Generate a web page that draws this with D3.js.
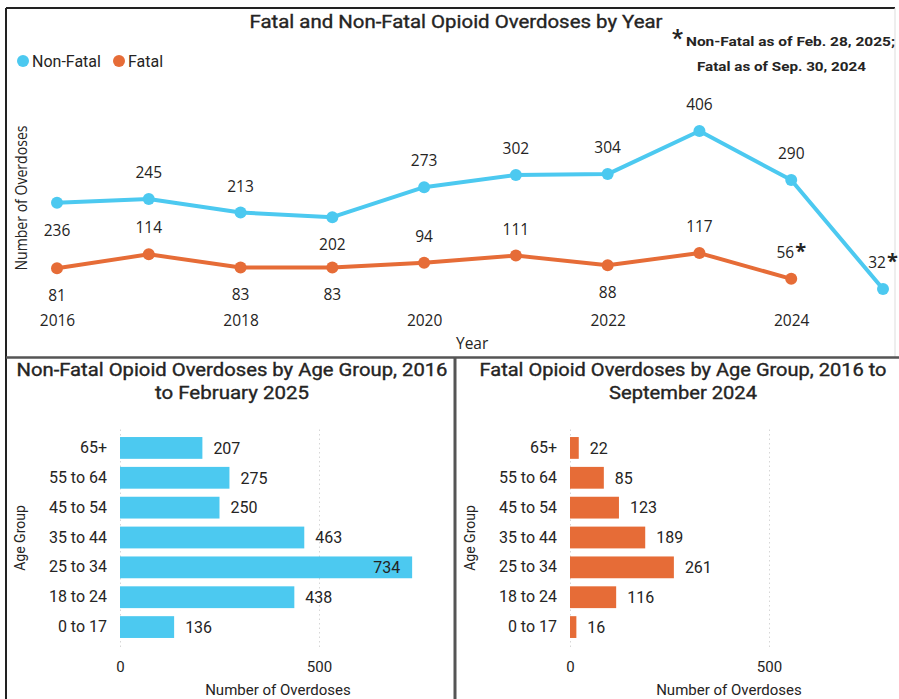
<!DOCTYPE html>
<html>
<head>
<meta charset="utf-8">
<script src="https://cdn.jsdelivr.net/npm/d3@7"></script>
<style>
  body { margin: 0; background: #fff; }
  svg { display: block; }
  .title { font-family: Roboto, sans-serif; font-weight: 400; font-size: 18px; fill: #252423; stroke: #252423; stroke-width: 0.35px; }
  .lbl { font-family: "Open Sans", sans-serif; font-size: 15.5px; fill: #252423; }
  .din { font-family: Roboto, sans-serif; fill: #252423; }
  .grid line { stroke: #d6d6d6; stroke-dasharray: 1.5 3; }
</style>
</head>
<body>
<svg id="chart" width="899" height="699"></svg>
<script>
// ---- data ----
const years = [2016, 2017, 2018, 2019, 2020, 2021, 2022, 2023, 2024, 2025];
const nonFatal = [236, 245, 213, 202, 273, 302, 304, 406, 290, 32];
const fatal = [81, 114, 83, 83, 94, 111, 88, 117, 56];
const yearTicks = [2016, 2018, 2020, 2022, 2024];
// years whose label sits under the point
const nonFatalBelow = [2016, 2019];
const fatalBelow = [2016, 2018, 2019, 2022];
const starred = { nonFatal: 2025, fatal: 2024 };

const ageGroups = ["65+", "55 to 64", "45 to 54", "35 to 44", "25 to 34", "18 to 24", "0 to 17"];
const nonFatalByAge = [207, 275, 250, 463, 734, 438, 136];
const fatalByAge = [22, 85, 123, 189, 261, 116, 16];
const barTicks = [0, 500];

const cyan = "#4cc9f0", orange = "#e66c37";
const svg = d3.select("#chart");

// panel borders
svg.append("line").attr("x1", 6).attr("x2", 6).attr("y1", 8).attr("y2", 699).attr("stroke", "#222").attr("stroke-width", 2);
svg.append("line").attr("x1", 6).attr("x2", 895).attr("y1", 8).attr("y2", 8).attr("stroke", "#222").attr("stroke-width", 2);
svg.append("line").attr("x1", 895).attr("x2", 895).attr("y1", 8).attr("y2", 357).attr("stroke", "#ddd").attr("stroke-width", 1);
svg.append("line").attr("x1", 6).attr("x2", 899).attr("y1", 357.5).attr("y2", 357.5).attr("stroke", "#555").attr("stroke-width", 2.5);
svg.append("line").attr("x1", 455).attr("x2", 455).attr("y1", 357).attr("y2", 699).attr("stroke", "#555").attr("stroke-width", 3);

// ---- line chart ----
svg.append("text").attr("class", "title").attr("x", 456).attr("y", 28)
    .attr("text-anchor", "middle").attr("textLength", 413).attr("lengthAdjust", "spacingAndGlyphs")
    .text("Fatal and Non-Fatal Opioid Overdoses by Year");

// legend
const legend = [{ name: "Non-Fatal", color: cyan, x: 23 }, { name: "Fatal", color: orange, x: 119 }];
legend.forEach(d => {
    svg.append("circle").attr("cx", d.x).attr("cy", 61).attr("r", 6).attr("fill", d.color);
    svg.append("text").attr("class", "din").attr("x", d.x + 9).attr("y", 67)
        .attr("font-size", 16).text(d.name);
});

// footnote
svg.append("text").attr("class", "din").attr("x", 672).attr("y", 46).attr("font-size", 24).attr("font-weight", 700).text("*");
svg.append("text").attr("class", "din").attr("x", 686).attr("y", 46).attr("font-size", 12.5).attr("font-weight", 700)
    .attr("textLength", 209).attr("lengthAdjust", "spacingAndGlyphs").text("Non-Fatal as of Feb. 28, 2025;");
svg.append("text").attr("class", "din").attr("x", 697).attr("y", 71).attr("font-size", 12.5).attr("font-weight", 700)
    .attr("textLength", 169).attr("lengthAdjust", "spacingAndGlyphs").text("Fatal as of Sep. 30, 2024");

const x = d3.scalePoint().domain(years).range([57, 883]);
const y = d3.scaleLinear().domain([0, 406]).range([302.5, 131]);

// year axis
const xAxis = svg.append("g").attr("transform", "translate(0,310)")
    .call(d3.axisBottom(x).tickValues(yearTicks).tickSize(0).tickPadding(0));
xAxis.select(".domain").remove();
xAxis.selectAll("text").attr("class", "lbl").attr("dy", "1.05em").attr("font-size", null).attr("font-family", null).attr("fill", null);

svg.append("text").attr("class", "lbl").attr("x", 456).attr("y", 349).attr("font-size", 13).text("Year");
svg.append("text").attr("class", "lbl").attr("font-size", 13)
    .attr("transform", "translate(27,198) rotate(-90)").attr("text-anchor", "middle")
    .attr("textLength", 145).attr("lengthAdjust", "spacingAndGlyphs").text("Number of Overdoses");

const line = d3.line().x(d => x(d.year)).y(d => y(d.value));
const series = [
    { key: "nonFatal", color: cyan, values: nonFatal.map((v, i) => ({ year: years[i], value: v })), below: nonFatalBelow },
    { key: "fatal", color: orange, values: fatal.map((v, i) => ({ year: years[i], value: v })), below: fatalBelow }
];

series.forEach(s => {
    svg.append("path").datum(s.values)
        .attr("fill", "none").attr("stroke", s.color).attr("stroke-width", 4)
        .attr("stroke-linejoin", "round").attr("d", line);
    svg.selectAll(".pt-" + s.key).data(s.values).enter().append("circle")
        .attr("cx", d => x(d.year)).attr("cy", d => y(d.value)).attr("r", 6).attr("fill", s.color);
    const labels = svg.selectAll(".lab-" + s.key).data(s.values).enter().append("text")
        .attr("class", "lbl").attr("text-anchor", "middle")
        .attr("x", d => x(d.year))
        .attr("y", d => s.below.includes(d.year) ? y(d.value) + 33 : y(d.value) - 21)
        .text(d => d.value);
    labels.filter(d => d.year === starred[s.key]).append("tspan")
        .attr("font-size", 20).attr("font-weight", 700).attr("dx", 1).text("*");
});

// ---- bar charts ----
function barChart(opts) {
    const xs = d3.scaleLinear().domain([0, 500]).range([opts.x0, opts.x0 + 199]);
    const ys = d3.scaleBand().domain(ageGroups).range([433, 642]).paddingInner(0.27).paddingOuter(0.135);

    opts.title.forEach((t, i) => {
        svg.append("text").attr("class", "title").attr("x", opts.cx).attr("y", 376 + i * 23)
            .attr("text-anchor", "middle").attr("textLength", opts.titleLen[i]).attr("lengthAdjust", "spacingAndGlyphs")
            .text(t);
    });

    const grid = svg.append("g").attr("class", "grid").attr("transform", "translate(0,647)")
        .call(d3.axisBottom(xs).tickValues(barTicks).tickSize(-220).tickPadding(14));
    grid.select(".domain").remove();
    grid.selectAll("text").attr("class", "din").attr("font-size", 15).attr("font-family", null).attr("fill", null);

    const yAxis = svg.append("g").attr("transform", `translate(${opts.x0},0)`)
        .call(d3.axisLeft(ys).tickSize(0).tickPadding(13));
    yAxis.select(".domain").remove();
    yAxis.selectAll("text").attr("class", "din").attr("font-size", 16).attr("font-family", null).attr("fill", null);

    svg.selectAll(null).data(opts.values).enter().append("rect")
        .attr("x", xs(0)).attr("y", (d, i) => ys(ageGroups[i]))
        .attr("width", d => xs(d) - xs(0)).attr("height", ys.bandwidth())
        .attr("fill", opts.color);

    svg.selectAll(null).data(opts.values).enter().append("text")
        .attr("class", "din").attr("font-size", 16)
        .attr("x", d => xs(d) + 30 > opts.limit ? xs(d) - 12 : xs(d) + 11)
        .attr("text-anchor", d => xs(d) + 30 > opts.limit ? "end" : "start")
        .attr("y", (d, i) => ys(ageGroups[i]) + ys.bandwidth() / 2)
        .attr("dy", "0.36em")
        .text(d => d);

    svg.append("text").attr("class", "din").attr("font-size", 15).attr("text-anchor", "middle")
        .attr("x", opts.axisCx).attr("y", 695).text("Number of Overdoses");
    svg.append("text").attr("class", "din").attr("font-size", 14).attr("text-anchor", "middle")
        .attr("transform", `translate(${opts.x0 - 95},538) rotate(-90)`).text("Age Group");
}

barChart({
    x0: 120, cx: 232, limit: 430, color: cyan, values: nonFatalByAge, axisCx: 278,
    title: ["Non-Fatal Opioid Overdoses by Age Group, 2016", "to February 2025"], titleLen: [431, 154]
});
barChart({
    x0: 570, cx: 683, limit: 880, color: orange, values: fatalByAge, axisCx: 729,
    title: ["Fatal Opioid Overdoses by Age Group, 2016 to", "September 2024"], titleLen: [407, 148]
});
</script>
</body>
</html>
